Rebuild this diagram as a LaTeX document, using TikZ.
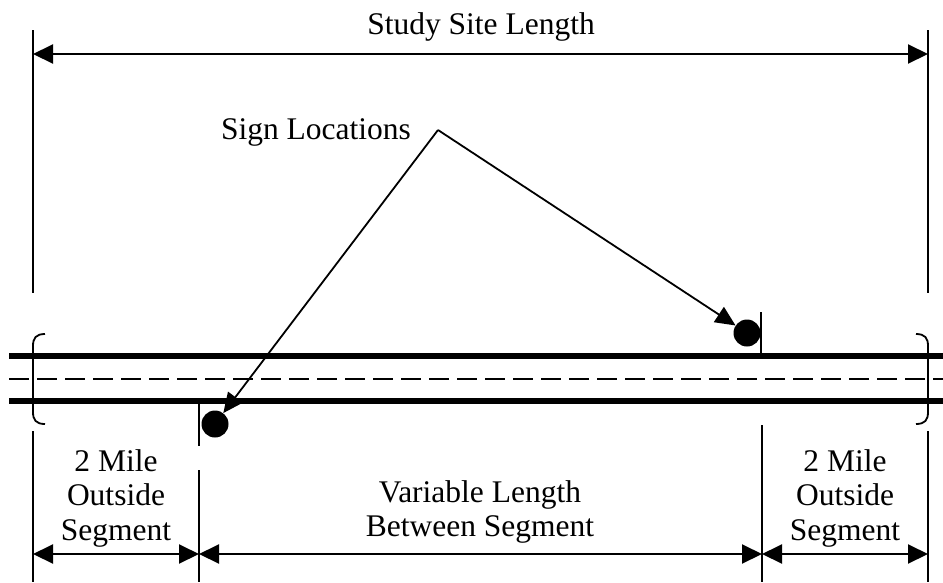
\documentclass[tikz,border=0pt]{standalone}
\usepackage{fontspec}
\setmainfont{Liberation Serif}
\usetikzlibrary{arrows.meta}
\begin{document}
\begin{tikzpicture}[x=1pt,y=-1pt,
  lbl/.style={font=\fontsize{31.5}{34.5}\selectfont, inner sep=0pt, align=center},
  dim/.style={line width=2pt, {Triangle[length=20pt,width=19pt]}-{Triangle[length=20pt,width=19pt]}},
  ext/.style={line width=2pt},
  lead/.style={line width=1.8pt, -{Triangle[length=20pt,width=18pt]}},
  road/.style={line width=5.5pt},
  centreline/.style={line width=2.5pt, dash pattern=on 20pt off 8pt},
  brace/.style={line width=1.8pt},
  post/.style={line width=2.5pt},
  signdot/.style={circle, fill=black, inner sep=0pt, minimum size=27pt}]
\useasboundingbox (0,0) rectangle (943,582);

% roadway: two edge lines and a dashed centre line
\draw[road] (9,356) -- (943,356);
\draw[centreline] (9,379) -- (943,379);
\draw[road] (9,401) -- (943,401);

% end-of-site brackets across the roadway
\draw[brace] (45,334) .. controls (36,334) and (33,338) .. (33,346) -- (33,412)
  .. controls (33,420) and (36,424) .. (45,424);
\draw[brace] (916,334) .. controls (925,334) and (928,338) .. (928,346) -- (928,412)
  .. controls (928,420) and (925,424) .. (916,424);

% reference points of the dimensions
\coordinate (tl) at (33,54);
\coordinate (tr) at (928,54);
\coordinate (b1) at (33,554);
\coordinate (b2) at (199,554);
\coordinate (b3) at (762,554);
\coordinate (b4) at (928,554);

% extension lines
\draw[ext] (33,30) -- (33,293);
\draw[ext] (928,30) -- (928,293);
\draw[ext] (33,431) -- (33,582);
\draw[ext] (199,470) -- (199,582);
\draw[ext] (762,425) -- (762,582);
\draw[ext] (928,431) -- (928,582);

% dimension arrows
\draw[dim] (tl) -- (tr);
\draw[dim] (b1) -- (b2);
\draw[dim] (b2) -- (b3);
\draw[dim] (b3) -- (b4);

% labels
\node[lbl, anchor=base] (title) at (481,34) {Study Site Length};
\node[lbl, anchor=base] (signlbl) at (316,139) {Sign Locations};
\node[lbl] (outL) at (116,498) {2 Mile\\Outside\\Segment};
\node[lbl] (mid) at (480,512) {Variable Length\\Between Segment};
\node[lbl] (outR) at (845,498) {2 Mile\\Outside\\Segment};

% signs: post plus filled disc
\draw[post] (199,404) -- (199,446);
\node[signdot] (sg1) at (215,424) {};
\draw[post] (761,312) -- (761,354);
\node[signdot] (sg2) at (747,333) {};

% leaders from the label to the signs
\coordinate (ap) at (438,130);
\draw[lead] (ap) -- (sg1);
\draw[lead] (ap) -- (sg2);
\end{tikzpicture}
\end{document}
